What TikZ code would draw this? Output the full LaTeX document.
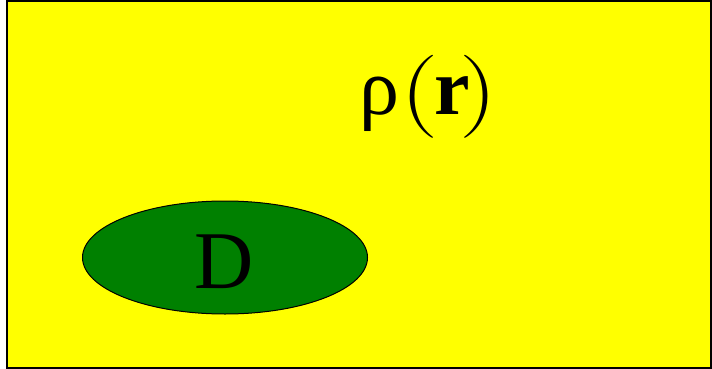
\documentclass[tikz,border=0pt]{standalone}
\usepackage{fontspec}
\setmainfont{Liberation Serif}
\newfontfamily\lmfont{Latin Modern Roman}
\definecolor{bgyellow}{RGB}{255,255,0}
\definecolor{dgreen}{RGB}{0,128,0}
\begin{document}
\begin{tikzpicture}[x=1pt,y=-1pt,
  frame/.style={draw=black,fill=bgyellow,line width=2pt},
  blob/.style={draw=black,fill=dgreen,line width=1pt},
  glyph/.style={anchor=base, inner sep=0pt, font=\fontsize{80}{90}\selectfont},
  paren/.style={anchor=base, inner sep=0pt, font=\lmfont\fontsize{83}{90}\selectfont}]
\useasboundingbox (0,0) rectangle (712,369);
\fill[white] (0,0) rectangle (712,369);
\draw[frame] (7,1) rectangle (711,368);
\draw[blob] (225,257.5) ellipse [x radius=142.5pt, y radius=56.5pt];
\node[glyph, font=\fontsize{82}{90}\selectfont] (d) at (224,288) {D};
\node[glyph] (rho) at (379,114) {ρ};
\node[paren] (lp) at (419.5,117) {\scalebox{1.3}[1]{(}};
\node[glyph] (r) at (452,114) {\textbf{r}};
\node[paren] (rp) at (478.5,117) {\scalebox{1.3}[1]{)}};
\end{tikzpicture}
\end{document}
